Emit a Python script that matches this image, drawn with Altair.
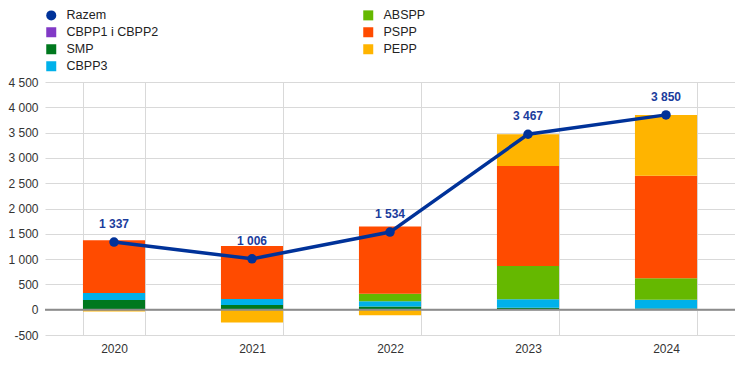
import altair as alt
import pandas as pd

years = ["2020", "2021", "2022", "2023", "2024"]
stack_series = ["CBPP1 i CBPP2", "SMP", "CBPP3", "ABSPP", "PSPP", "PEPP"]
cbpp12 = [0, 0, 0, 0, 0]
smp = [190, 91, 65, 40, 26]
cbpp3 = [139, 119, 104, 168, 172]
abspp = [0, 0, 148, 655, 422]
pspp = [1044, 1050, 1329, 1975, 2027]
pepp = [-36, -254, -112, 629, 1203]
totals = [1337, 1006, 1534, 3467, 3850]
y_ticks = [-500, 0, 500, 1000, 1500, 2000, 2500, 3000, 3500, 4000, 4500]

legend_order = ["Razem", "CBPP1 i CBPP2", "SMP", "CBPP3", "ABSPP", "PSPP", "PEPP"]
color_map = {
    "Razem": "#003299",
    "CBPP1 i CBPP2": "#8139c6",
    "SMP": "#00781e",
    "CBPP3": "#00b1ea",
    "ABSPP": "#65b800",
    "PSPP": "#ff4b00",
    "PEPP": "#ffb400",
}
shape_map = {s: ("circle" if s == "Razem" else "square") for s in legend_order}

vals = {"CBPP1 i CBPP2": cbpp12, "SMP": smp, "CBPP3": cbpp3,
        "ABSPP": abspp, "PSPP": pspp, "PEPP": pepp}
rows = []
for i, s in enumerate(stack_series):
    for j, y in enumerate(years):
        rows.append({"year": y, "series": s, "value": vals[s][j], "stack": i})
bars_df = pd.DataFrame(rows)

line_df = pd.DataFrame({
    "year": years,
    "total": totals,
    "label": [f"{t:,}".replace(",", " ") for t in totals],
    "series": ["Razem"] * len(years),
})

color_scale = alt.Scale(domain=legend_order, range=[color_map[s] for s in legend_order])
shape_scale = alt.Scale(domain=legend_order, range=[shape_map[s] for s in legend_order])

legend = alt.Legend(
    title=None, orient="none", legendX=0, legendY=-73, columns=2,
    columnPadding=203, rowPadding=4, symbolSize=100, labelFontSize=12.5,
    labelFont="Liberation Sans", labelColor="#222222", labelOffset=9,
    symbolStrokeWidth=0,
)

x_scale = alt.Scale(paddingInner=0.55, paddingOuter=0.275)
x_axis = alt.Axis(labelAngle=0, domain=False, ticks=False, grid=True,
                  tickBand="extent", gridColor="#d9d9d9", labelPadding=8,
                  labelFontSize=12, labelFont="Liberation Sans",
                  labelColor="#333333")
y_scale = alt.Scale(domain=[-500, 4500], nice=False)
y_axis = alt.Axis(values=y_ticks, domain=False, ticks=False,
                  gridColor="#d9d9d9", labelPadding=7, labelFontSize=12,
                  labelFont="Liberation Sans", labelColor="#333333",
                  labelOverlap=False,
                  labelExpr="replace(replace(format(datum.value, ','), ',', ' '), '\u2212', '-')")


def xe():
    return alt.X("year:N", sort=years, title=None, scale=x_scale, axis=x_axis)


def ye(field):
    return alt.Y(field, scale=y_scale, axis=y_axis, title=None)


bars = alt.Chart(bars_df).mark_bar().encode(
    x=xe(),
    y=alt.Y("value:Q", scale=y_scale, axis=y_axis, title=None, stack="zero"),
    color=alt.Color("series:N", scale=color_scale, legend=legend),
    order=alt.Order("stack:Q"),
)

zero = alt.Chart(pd.DataFrame({"z": [0]})).mark_rule(color="#8c8c8c", strokeWidth=2).encode(
    y=ye("z:Q"))

line = alt.Chart(line_df).mark_line(strokeWidth=3.5).encode(
    x=xe(),
    y=ye("total:Q"),
    color=alt.Color("series:N", scale=color_scale, legend=legend),
)
points = alt.Chart(line_df).mark_point(filled=True, size=90, opacity=1).encode(
    x=xe(),
    y=ye("total:Q"),
    color=alt.Color("series:N", scale=color_scale, legend=legend),
    shape=alt.Shape("series:N", scale=shape_scale, legend=legend),
)
labels = alt.Chart(line_df).mark_text(dy=-18, fontSize=12, fontWeight="bold",
                                      font="Liberation Sans", color="#1a3c9c").encode(
    x=xe(),
    y=ye("total:Q"),
    text="label:N",
)

chart = alt.layer(bars, zero, line, points, labels).properties(
    width=690, height=253,
    padding={"left": 37, "top": 74, "right": 0, "bottom": 24},
    autosize="none",
).configure_view(stroke=None).configure_axisY(labelOverlap=False)

chart.save("out.html", embed_options={"renderer": "svg", "actions": False})
